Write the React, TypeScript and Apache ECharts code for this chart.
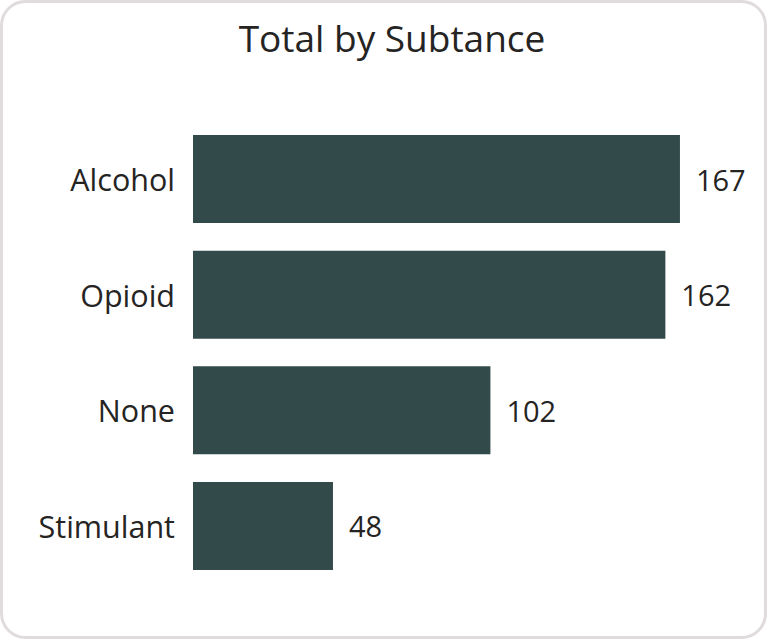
import React, { useEffect, useRef } from "react";
import * as echarts from "echarts";

const categories = ["Alcohol", "Opioid", "None", "Stimulant"];
const totals = [167, 162, 102, 48];
const titleText = "Total by Subtance";

export default function App() {
  const ref = useRef<HTMLDivElement>(null);
  useEffect(() => {
    if (!ref.current) return;
    const chart = echarts.init(ref.current, undefined, { renderer: "svg" });
    chart.setOption({
      animation: false,
      backgroundColor: "transparent",
      graphic: [
        {
          type: "rect",
          z: -10,
          silent: true,
          shape: { x: 1.5, y: 1.5, width: 764, height: 636, r: 24 },
          style: { fill: "#ffffff", stroke: "#e0dcdc", lineWidth: 3 },
        },
      ],
      title: {
        text: titleText,
        left: 387,
        textAlign: "center",
        top: 14,
        textStyle: {
          fontFamily: "Open Sans",
          fontSize: 37,
          fontWeight: "normal",
          color: "#252423",
        },
      },
      grid: { left: 193, right: 81.3, top: 121.2, bottom: 58.2, containLabel: false },
      xAxis: {
        type: "value",
        min: 0,
        max: 170,
        show: false,
      },
      yAxis: {
        type: "category",
        inverse: true,
        data: categories,
        axisLine: { show: false },
        axisTick: { show: false },
        axisLabel: {
          margin: 18,
          fontFamily: "Open Sans",
          fontSize: 30.5,
          color: "#252423",
        },
      },
      series: [
        {
          type: "bar",
          data: totals,
          barWidth: 88,
          itemStyle: { color: "#334a4a" },
          label: {
            show: true,
            position: "right",
            distance: 16,
            fontFamily: "Open Sans",
            fontSize: 29,
            color: "#252423",
          },
        },
      ],
    });
    return () => chart.dispose();
  }, []);
  return (
    <div
      ref={ref}
      style={{ position: "absolute", left: 0, top: 0, width: 770, height: 642 }}
    />
  );
}
